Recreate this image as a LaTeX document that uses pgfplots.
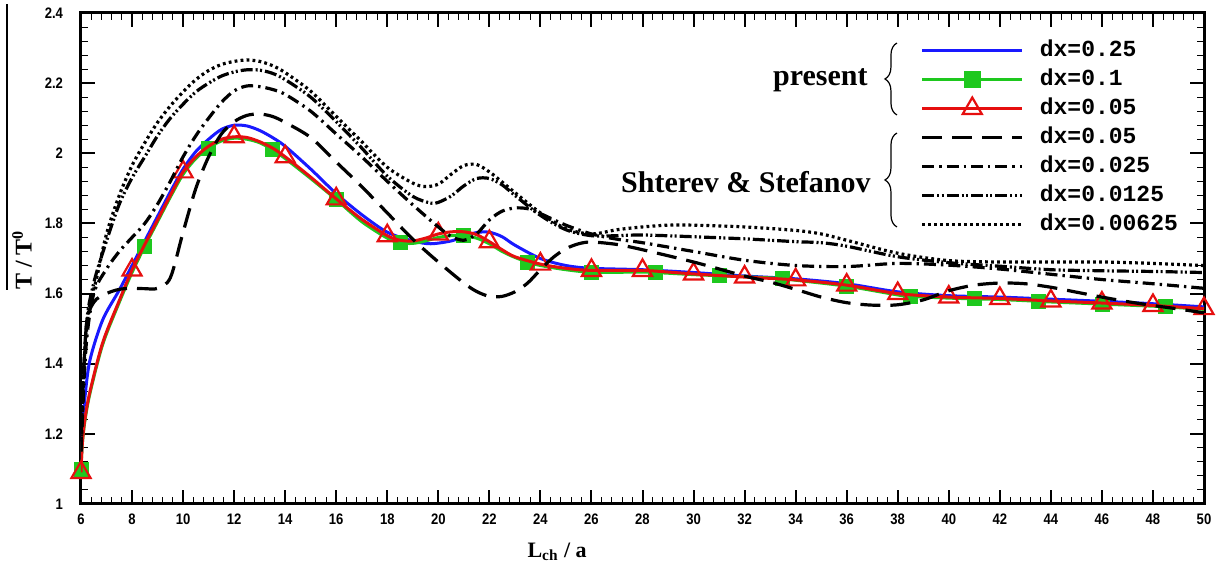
\documentclass[border=0pt]{standalone}
\usepackage{fontspec}
\setmainfont{Liberation Serif}
\newfontfamily\ticksf[FakeStretch=0.86]{Liberation Sans}
\newfontfamily\monof{Liberation Mono}
\usepackage{pgfplots}
\usepackage{pgfplotstable}
\pgfplotsset{compat=1.18}
\usetikzlibrary{decorations.pathreplacing}

\definecolor{cblue}{RGB}{25,25,255}
\definecolor{cgreen}{RGB}{30,200,30}
\definecolor{cred}{RGB}{230,15,15}

\pgfplotstableread{
x y
6 1.10
6.05 1.20
6.15 1.30
6.35 1.41
6.85 1.525
7.5 1.61
8 1.68
8.5 1.75
9 1.82
9.5 1.89
10 1.955
10.5 2.005
11 2.04
11.5 2.068
12 2.08
12.5 2.078
13 2.065
13.5 2.045
14 2.02
15 1.955
16 1.885
17 1.825
18 1.775
19 1.75
19.7 1.742
20.5 1.75
21 1.763
21.5 1.774
22 1.775
22.5 1.762
23 1.738
24 1.70
25 1.68
26 1.672
28 1.668
30 1.66
32 1.65
34 1.642
36 1.628
38 1.605
40 1.594
42 1.59
44 1.584
46 1.578
48 1.571
50 1.562
}\blueT

\pgfplotstableread{
x y
6 1.10
6.05 1.17
6.15 1.235
6.35 1.315
6.85 1.455
7.5 1.575
8 1.66
8.5 1.735
9 1.805
9.5 1.875
10 1.94
10.5 1.985
11 2.015
11.5 2.035
12 2.043
12.5 2.04
13 2.03
13.5 2.01
14 1.985
15 1.928
16 1.868
17 1.805
18 1.758
18.5 1.745
19 1.743
19.5 1.75
20 1.76
20.5 1.765
21 1.765
21.5 1.758
22 1.742
22.5 1.72
23 1.703
23.5 1.69
24 1.68
25 1.668
26 1.661
28 1.661
28.5 1.66
30 1.654
31 1.651
32 1.648
33.5 1.643
34 1.638
36 1.621
38 1.596
38.5 1.592
40 1.587
41 1.585
42 1.583
43.5 1.578
44 1.576
46 1.570
48 1.564
48.5 1.562
50 1.555
}\greenT

\pgfplotstableread{
x y
6 1.10
8.5 1.735
11 2.015
13.5 2.01
16 1.868
18.5 1.745
21 1.765
23.5 1.69
26 1.661
28.5 1.66
31 1.651
33.5 1.643
36 1.621
38.5 1.592
41 1.585
43.5 1.578
46 1.570
48.5 1.562
}\greenM

\pgfplotstableread{
x y
6 1.09
6.05 1.17
6.15 1.24
6.35 1.32
6.85 1.46
7.5 1.58
8 1.667
8.5 1.74
9 1.81
9.5 1.88
10 1.947
10.5 1.99
11 2.02
11.5 2.04
12 2.047
12.5 2.045
13 2.033
13.5 2.015
14 1.99
15 1.932
16 1.87
17 1.812
18 1.765
18.5 1.752
19 1.75
19.5 1.758
20 1.77
20.5 1.776
21 1.776
21.5 1.768
22 1.748
22.5 1.725
23 1.705
24 1.684
25 1.672
26 1.666
28 1.666
30 1.656
32 1.647
34 1.639
36 1.624
38 1.60
40 1.59
42 1.586
44 1.579
46 1.573
48 1.566
50 1.557
}\redT

\pgfplotstableread{
x y
6 1.09
8 1.667
10 1.947
12 2.047
14 1.99
16 1.87
18 1.765
20 1.77
22 1.748
24 1.684
26 1.666
28 1.666
30 1.656
32 1.647
34 1.639
36 1.624
38 1.60
40 1.59
42 1.586
44 1.579
46 1.573
48 1.566
50 1.557
}\redM

\pgfplotstableread{
x y
6 1.20
6.2 1.50
6.5 1.575
7 1.60
7.5 1.612
8 1.615
8.5 1.614
9 1.615
9.5 1.645
10 1.775
10.5 1.90
11 1.99
11.5 2.055
12 2.09
12.5 2.108
13 2.112
13.5 2.105
14 2.088
15 2.045
16 1.975
17 1.905
18 1.83
19 1.755
20 1.69
21 1.63
21.5 1.606
22 1.592
22.5 1.592
23 1.605
23.5 1.63
24 1.668
24.5 1.703
25 1.728
25.5 1.742
26 1.747
27 1.74
28 1.725
30 1.69
32 1.65
33 1.633
34 1.612
35 1.59
36 1.574
37 1.567
38 1.568
39 1.582
40 1.608
41 1.624
42 1.63
43 1.628
44 1.618
45 1.604
46 1.59
47 1.577
48 1.566
49 1.556
50 1.545
}\sA

\pgfplotstableread{
x y
6 1.15
6.2 1.45
6.5 1.60
7 1.67
7.5 1.72
8 1.76
8.5 1.80
9 1.855
9.5 1.92
10 1.99
10.5 2.05
11 2.10
11.5 2.145
12 2.178
12.5 2.192
13 2.19
13.5 2.182
14 2.168
15 2.12
16 2.055
17 1.99
18 1.92
19 1.853
20 1.79
20.5 1.763
21 1.752
21.5 1.77
22 1.81
22.5 1.835
23 1.844
23.5 1.842
24 1.828
25 1.795
26 1.77
27 1.755
28 1.745
30 1.72
32 1.695
34 1.68
36 1.677
38 1.686
40 1.681
42 1.67
44 1.655
46 1.64
48 1.628
50 1.615
}\sB

\pgfplotstableread{
x y
6 1.15
6.2 1.50
6.5 1.63
7 1.75
7.5 1.855
8 1.93
8.5 1.99
9 2.05
9.5 2.10
10 2.14
10.5 2.175
11 2.20
11.5 2.22
12 2.232
12.5 2.238
13 2.237
13.5 2.228
14 2.21
15 2.16
16 2.09
17 2.015
18 1.935
19 1.877
19.7 1.858
20 1.86
20.5 1.878
21 1.907
21.5 1.928
22 1.928
22.5 1.91
23 1.88
24 1.823
25 1.782
26 1.765
27 1.765
28 1.767
30 1.762
32 1.756
34 1.748
35 1.745
36 1.735
38 1.705
40 1.688
42 1.678
44 1.668
46 1.665
48 1.663
50 1.66
}\sC

\pgfplotstableread{
x y
6 1.15
6.1 1.38
6.3 1.55
6.6 1.64
7 1.77
7.5 1.88
8 1.965
8.5 2.03
9 2.088
9.5 2.135
10 2.175
10.5 2.21
11 2.236
11.5 2.253
12 2.262
12.5 2.266
13 2.262
13.5 2.25
14 2.23
15 2.177
16 2.105
17 2.033
18 1.96
19 1.915
19.5 1.905
20 1.912
20.5 1.94
21 1.965
21.5 1.968
22 1.947
22.5 1.918
23 1.888
24 1.83
25 1.785
26 1.77
27 1.782
28 1.79
29 1.795
30 1.795
32 1.79
34 1.78
35 1.77
36 1.752
38 1.715
40 1.694
42 1.69
44 1.69
46 1.69
48 1.686
50 1.68
}\sD

\tikzset{
  sdash/.style={black, line width=1.6pt, dash pattern=on 10pt off 5pt},
  sdashdot/.style={black, line width=1.6pt, dash pattern=on 6pt off 2.5pt on 1.2pt off 2.5pt},
  sdashdotdot/.style={black, line width=1.6pt, dash pattern=on 6pt off 1.5pt on 1pt off 1.2pt on 1pt off 1.5pt},
  sdot/.style={black, line width=1.6pt, dash pattern=on 1.4pt off 1.6pt},
}

\begin{document}
\begin{tikzpicture}
\begin{axis}[
  scale only axis,
  width=561.5pt, height=245.5pt,
  xmin=6, xmax=50, ymin=1, ymax=2.4,
  xtick={6,8,10,12,14,16,18,20,22,24,26,28,30,32,34,36,38,40,42,44,46,48,50},
  ytick={1,1.2,1.4,1.6,1.8,2,2.2,2.4},
  minor x tick num=4, minor y tick num=4,
  xtick pos=both, ytick pos=both,
  xticklabel pos=lower, yticklabel pos=left,
  tick align=inside,
  major tick length=7pt, minor tick length=3.5pt,
  major tick style={black, line width=1pt},
  minor tick style={black, line width=0.5pt},
  axis line style={line width=1.5pt},
  /pgf/number format/assume math mode=true,
  tick label style={font=\ticksf\bfseries\fontsize{7.6}{8.5}\selectfont},
  xticklabel style={yshift=-1.5pt},
  yticklabel style={xshift=-5.5pt},
  every axis x label/.style={at={(rel axis cs:0.424,-0.098)}, anchor=center},
  every axis y label/.style={at={(rel axis cs:-0.0525,0.497)}, anchor=center, rotate=90},
  xlabel={\fontsize{11}{12}\selectfont\bfseries L\textsubscript{ch} / a},
  ylabel={\fontsize{12}{13}\selectfont\bfseries T / T\textsuperscript{0}},
  clip mode=individual,
  legend cell align=left,
  legend image code/.code={%
    \draw[mark repeat=2,mark phase=2,#1] plot coordinates {(0pt,0pt) (25pt,0pt) (50pt,0pt)};
    \path (0pt,-3pt) (58pt,3pt);},
  legend style={draw=none, fill=none, at={(rel axis cs:0.742,0.955)}, anchor=north west,
    font=\monof\bfseries\fontsize{11.5}{12}\selectfont,
    row sep=3.5pt,
    nodes={inner sep=0pt, text height=8.5pt, text depth=2.5pt}},
]
% present
\addplot[cblue, line width=1.5pt, smooth, forget plot] table {\blueT};
\addplot[cgreen, line width=1.5pt, smooth, forget plot] table {\greenT};
\addplot[only marks, mark=square*, mark size=3.5pt, cgreen, forget plot] table {\greenM};
\addplot[cred, line width=1.5pt, smooth, forget plot] table {\redT};
\addplot[only marks, mark=triangle, mark size=5.5pt, cred, mark options={line width=1.1pt}, forget plot] table {\redM};
% Shterev & Stefanov
\addplot[sdash, smooth, forget plot] table {\sA};
\addplot[sdashdot, smooth, forget plot] table {\sB};
\addplot[sdashdotdot, smooth, forget plot] table {\sC};
\addplot[sdot, smooth, forget plot] table {\sD};

\addlegendimage{cblue, line width=1.5pt}
\addlegendentry{dx=0.25}
\addlegendimage{cgreen, line width=1.5pt, mark=square*, mark size=3.5pt}
\addlegendentry{dx=0.1}
\addlegendimage{cred, line width=1.5pt, mark=triangle, mark size=5.5pt, mark options={line width=1.1pt, solid}}
\addlegendentry{dx=0.05}
\addlegendimage{sdash}
\addlegendentry{dx=0.05}
\addlegendimage{sdashdot}
\addlegendentry{dx=0.025}
\addlegendimage{sdashdotdot}
\addlegendentry{dx=0.0125}
\addlegendimage{sdot}
\addlegendentry{dx=0.00625}

% braces and group labels
\draw[decorate, decoration={brace, amplitude=6pt}, line width=0.6pt]
  (rel axis cs:0.7266,0.7923) -- (rel axis cs:0.7266,0.9389);
\draw[decorate, decoration={brace, amplitude=6pt}, line width=0.6pt]
  (rel axis cs:0.7266,0.5642) -- (rel axis cs:0.7266,0.7556);
\node[anchor=east, font=\bfseries\fontsize{15}{16}\selectfont, inner sep=0pt]
  at (rel axis cs:0.7008,0.8635) {present};
\node[anchor=east, font=\bfseries\fontsize{15}{16}\selectfont, inner sep=0pt]
  at (rel axis cs:0.7035,0.6558) {Shterev \& Stefanov};
% overline of the y label
\draw[line width=0.8pt] (rel axis cs:-0.0659,0.436) -- (rel axis cs:-0.0659,1.018);
\end{axis}
\pgfresetboundingbox
\path (-40.5pt,-33.5pt) rectangle (569.5pt,252pt);
\end{tikzpicture}
\end{document}
